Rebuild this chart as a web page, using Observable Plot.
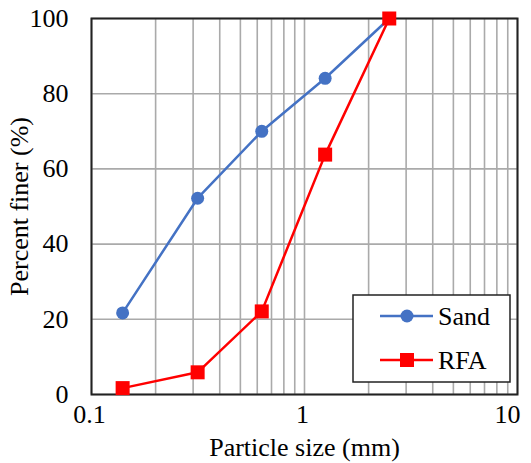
<!DOCTYPE html>
<html><head><meta charset="utf-8">
<script src="https://cdn.jsdelivr.net/npm/d3@7"></script>
<script src="https://cdn.jsdelivr.net/npm/@observablehq/plot@0.6"></script>
<style>
body{margin:0;background:#fff;}
#wrap{position:relative;width:531px;height:463px;font-family:"Liberation Serif",serif;}
#legend{position:absolute;left:352px;top:294px;}
</style></head>
<body><div id="wrap"></div>
<script>
const sizes = [0.14, 0.315, 0.63, 1.25, 2.5];
const sandPct = [21.7, 52.2, 70, 84.1, 100];
const rfaPct = [1.7, 5.9, 22.1, 63.8, 100];
const seriesNames = ["Sand", "RFA"];
const seriesColors = ["#4472C4", "#FF0000"];
const xTickLabels = [0.1, 1, 10];
const yTickLabels = [0, 20, 40, 60, 80, 100];
const xGrid = d3.scaleLog().domain([0.1, 10]).ticks();

const sand = sizes.map((s, i) => ({size: s, pct: sandPct[i]}));
const rfa = sizes.map((s, i) => ({size: s, pct: rfaPct[i]}));

const chart = Plot.plot({
  width: 531, height: 463,
  marginLeft: 91, marginRight: 14, marginTop: 18, marginBottom: 69,
  style: {fontFamily: "Liberation Serif, serif", fontSize: "26px", color: "#000", background: "#fff", overflow: "visible"},
  x: {type: "log", domain: [0.1, 10]},
  y: {domain: [0, 100]},
  marks: [
    Plot.gridX(xGrid, {stroke: "#aaaaaa", strokeOpacity: 1, strokeWidth: 1.6}),
    Plot.gridY(yTickLabels, {stroke: "#aaaaaa", strokeOpacity: 1, strokeWidth: 1.6}),
    Plot.axisX(xTickLabels.slice(0, 2), {tickSize: 0, tickPadding: 10, tickFormat: d => String(d), fontSize: 26, dx: -2,
      label: "Particle size (mm)", labelAnchor: "center", labelArrow: "none", labelOffset: 61}),
    Plot.axisX(xTickLabels.slice(2), {tickSize: 0, tickPadding: 10, tickFormat: d => String(d), fontSize: 26, dx: -10, label: null}),
    Plot.axisY(yTickLabels, {tickSize: 0, tickPadding: 23, fontSize: 26,
      label: "Percent finer (%)", labelAnchor: "center", labelArrow: "none", labelOffset: 82}),
    Plot.frame({stroke: "#222", strokeWidth: 2}),
    Plot.line(sand, {x: "size", y: "pct", stroke: seriesColors[0], strokeWidth: 2.5}),
    Plot.dot(sand, {x: "size", y: "pct", r: 6.5, fill: seriesColors[0], stroke: "none"}),
    Plot.line(rfa, {x: "size", y: "pct", stroke: seriesColors[1], strokeWidth: 2.5}),
    Plot.dot(rfa, {x: "size", y: "pct", symbol: "square", r: 7.9, fill: seriesColors[1], stroke: "none"})
  ]
});
const wrap = document.getElementById("wrap");
wrap.appendChild(chart);

// legend
const leg = d3.select(wrap).append("svg").attr("id", "legend").attr("width", 160).attr("height", 90)
  .style("font-family", "Liberation Serif, serif");
leg.append("rect").attr("x", 1).attr("y", 1).attr("width", 157).attr("height", 87)
  .attr("fill", "#fff").attr("stroke", "#222").attr("stroke-width", 1.5);
seriesNames.forEach((name, i) => {
  const cy = 22 + i * 44;
  leg.append("line").attr("x1", 28).attr("x2", 81).attr("y1", cy).attr("y2", cy)
    .attr("stroke", seriesColors[i]).attr("stroke-width", 2.5);
  if (i === 0) leg.append("circle").attr("cx", 55).attr("cy", cy).attr("r", 6.5).attr("fill", seriesColors[i]);
  else leg.append("rect").attr("x", 48).attr("y", cy - 7).attr("width", 14).attr("height", 14).attr("fill", seriesColors[i]);
  leg.append("text").attr("x", 86).attr("y", cy).attr("dy", "0.35em").attr("font-size", 26).attr("fill", "#000").text(name);
});
</script></body></html>
